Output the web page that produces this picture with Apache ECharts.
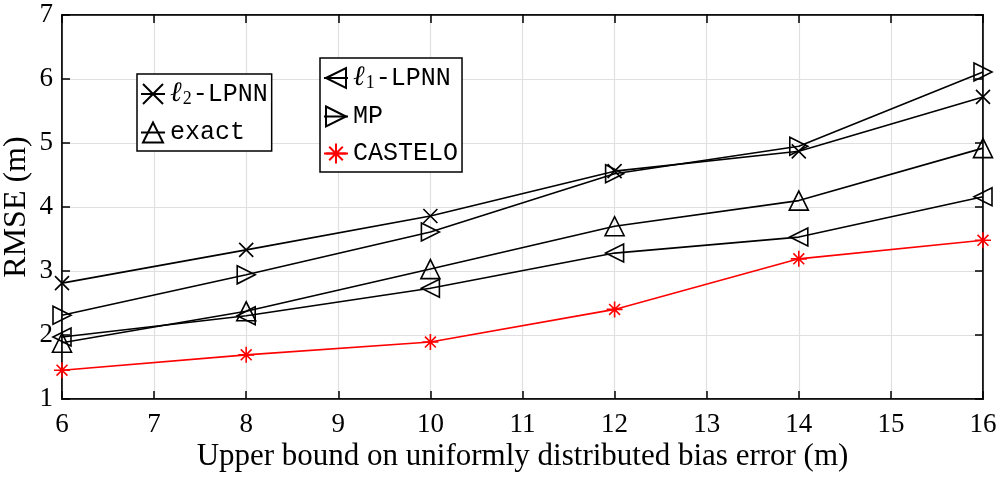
<!DOCTYPE html>
<html>
<head>
<meta charset="utf-8">
<script src="https://cdn.jsdelivr.net/npm/echarts@6/dist/echarts.min.js"></script>
<style>
  html, body { margin: 0; padding: 0; background: #fff; }
  #chart { width: 1002px; height: 479px; }
</style>
</head>
<body>
<div id="chart"></div>
<script>
const xValues = [6, 8, 10, 12, 14, 16];
const l2Lpnn = [2.81, 3.33, 3.86, 4.56, 4.87, 5.72];
const exact = [1.88, 2.37, 3.03, 3.70, 4.10, 4.92];
const l1Lpnn = [1.97, 2.30, 2.73, 3.28, 3.53, 4.16];
const mp = [2.31, 2.94, 3.61, 4.52, 4.95, 6.11];
const castelo = [1.45, 1.69, 1.89, 2.40, 3.19, 3.48];

const serif = '"Liberation Serif", "DejaVu Serif", serif';
const mono = '"Liberation Mono", "DejaVu Sans Mono", monospace';

const sym = {
  cross: 'path://M0,0 L10,10 M10,0 L0,10',
  up: 'path://M0,10 L5,0 L10,10 Z',
  left: 'path://M0,5 L10,0 L10,10 Z',
  right: 'path://M0,0 L10,5 L0,10 Z',
  star: 'path://M5,0 L5,10 M0,5 L10,5 M1.6,1.6 L8.4,8.4 M8.4,1.6 L1.6,8.4'
};

const pairs = (ys) => xValues.map((x, i) => [x, ys[i]]);

function lineSeries(name, data, symbol, size, color) {
  return {
    name,
    type: 'line',
    data: pairs(data),
    symbol,
    symbolSize: size,
    showAllSymbol: true,
    lineStyle: { color, width: 1.6 },
    itemStyle: { color: 'transparent', borderColor: color, borderWidth: 1.6 },
    emphasis: { disabled: true },
    animation: false
  };
}

const labels = {
  l2: '{l|ℓ}{s|2}-LPNN',
  exact: 'exact',
  l1: '{l|ℓ}{s|1}-LPNN',
  MP: 'MP',
  CASTELO: 'CASTELO'
};

const legendText = {
  fontFamily: mono,
  fontSize: 25,
  color: '#000',
  rich: {
    l: { fontFamily: serif, fontSize: 28, fontStyle: 'italic', color: '#000' },
    s: { fontFamily: serif, fontSize: 18, color: '#000', padding: [10, 1, 0, 1] }
  }
};

const legendBase = {
  orient: 'vertical',
  itemWidth: 24,
  itemHeight: 25,
  itemGap: 12,
  padding: [6, 4, 6, 3],
  backgroundColor: '#fff',
  borderColor: '#000',
  borderWidth: 1.5,
  borderRadius: 0,
  selectedMode: false,
  textStyle: legendText,
  formatter: (n) => labels[n]
};

const chart = echarts.init(document.getElementById('chart'), null, { renderer: 'canvas' });

chart.setOption({
  backgroundColor: '#fff',
  animation: false,
  grid: {
    left: 62, right: 19, top: 15, bottom: 80,
    containLabel: false, outerBoundsMode: 'none',
    show: true, borderColor: '#000', borderWidth: 1.5
  },
  legend: [
    Object.assign({}, legendBase, { data: ['l2', 'exact'], left: 137, top: 74 }),
    Object.assign({}, legendBase, { data: ['l1', 'MP', 'CASTELO'], left: 320, top: 58 })
  ],
  xAxis: [
    {
      type: 'value', min: 6, max: 16, interval: 1,
      name: 'Upper bound on uniformly distributed bias error (m)',
      nameLocation: 'middle', nameGap: 42, nameMoveOverlap: false,
      nameTextStyle: { fontFamily: serif, fontSize: 31, color: '#000' },
      axisLine: { show: true, lineStyle: { color: '#000', width: 1.5 } },
      axisTick: { show: true, inside: true, length: 8, lineStyle: { color: '#000', width: 1.5 } },
      axisLabel: { fontFamily: serif, fontSize: 27, color: '#000', margin: 12 },
      splitLine: { show: true, lineStyle: { color: '#e0e0e0', width: 1.2 } }
    },
    {
      type: 'value', min: 6, max: 16, interval: 1, position: 'top',
      axisLine: { show: true, lineStyle: { color: '#000', width: 1.5 } },
      axisTick: { show: true, inside: true, length: 8, lineStyle: { color: '#000', width: 1.5 } },
      axisLabel: { show: false },
      splitLine: { show: false }
    }
  ],
  yAxis: [
    {
      type: 'value', min: 1, max: 7, interval: 1,
      name: 'RMSE (m)',
      nameLocation: 'middle', nameGap: 29, nameMoveOverlap: false,
      nameTextStyle: { fontFamily: serif, fontSize: 32, color: '#000' },
      axisLine: { show: true, lineStyle: { color: '#000', width: 1.5 } },
      axisTick: { show: true, inside: true, length: 8, lineStyle: { color: '#000', width: 1.5 } },
      axisLabel: { fontFamily: serif, fontSize: 27, color: '#000', margin: 9 },
      splitLine: { show: true, lineStyle: { color: '#e0e0e0', width: 1.2 } }
    },
    {
      type: 'value', min: 1, max: 7, interval: 1, position: 'right',
      axisLine: { show: true, lineStyle: { color: '#000', width: 1.5 } },
      axisTick: { show: true, inside: true, length: 8, lineStyle: { color: '#000', width: 1.5 } },
      axisLabel: { show: false },
      splitLine: { show: false }
    }
  ],
  series: [
    lineSeries('l2', l2Lpnn, sym.cross, 14, '#000'),
    lineSeries('exact', exact, sym.up, 19, '#000'),
    lineSeries('l1', l1Lpnn, sym.left, 18, '#000'),
    lineSeries('MP', mp, sym.right, 18, '#000'),
    lineSeries('CASTELO', castelo, sym.star, 16, '#ff0000')
  ]
});
</script>
</body>
</html>
